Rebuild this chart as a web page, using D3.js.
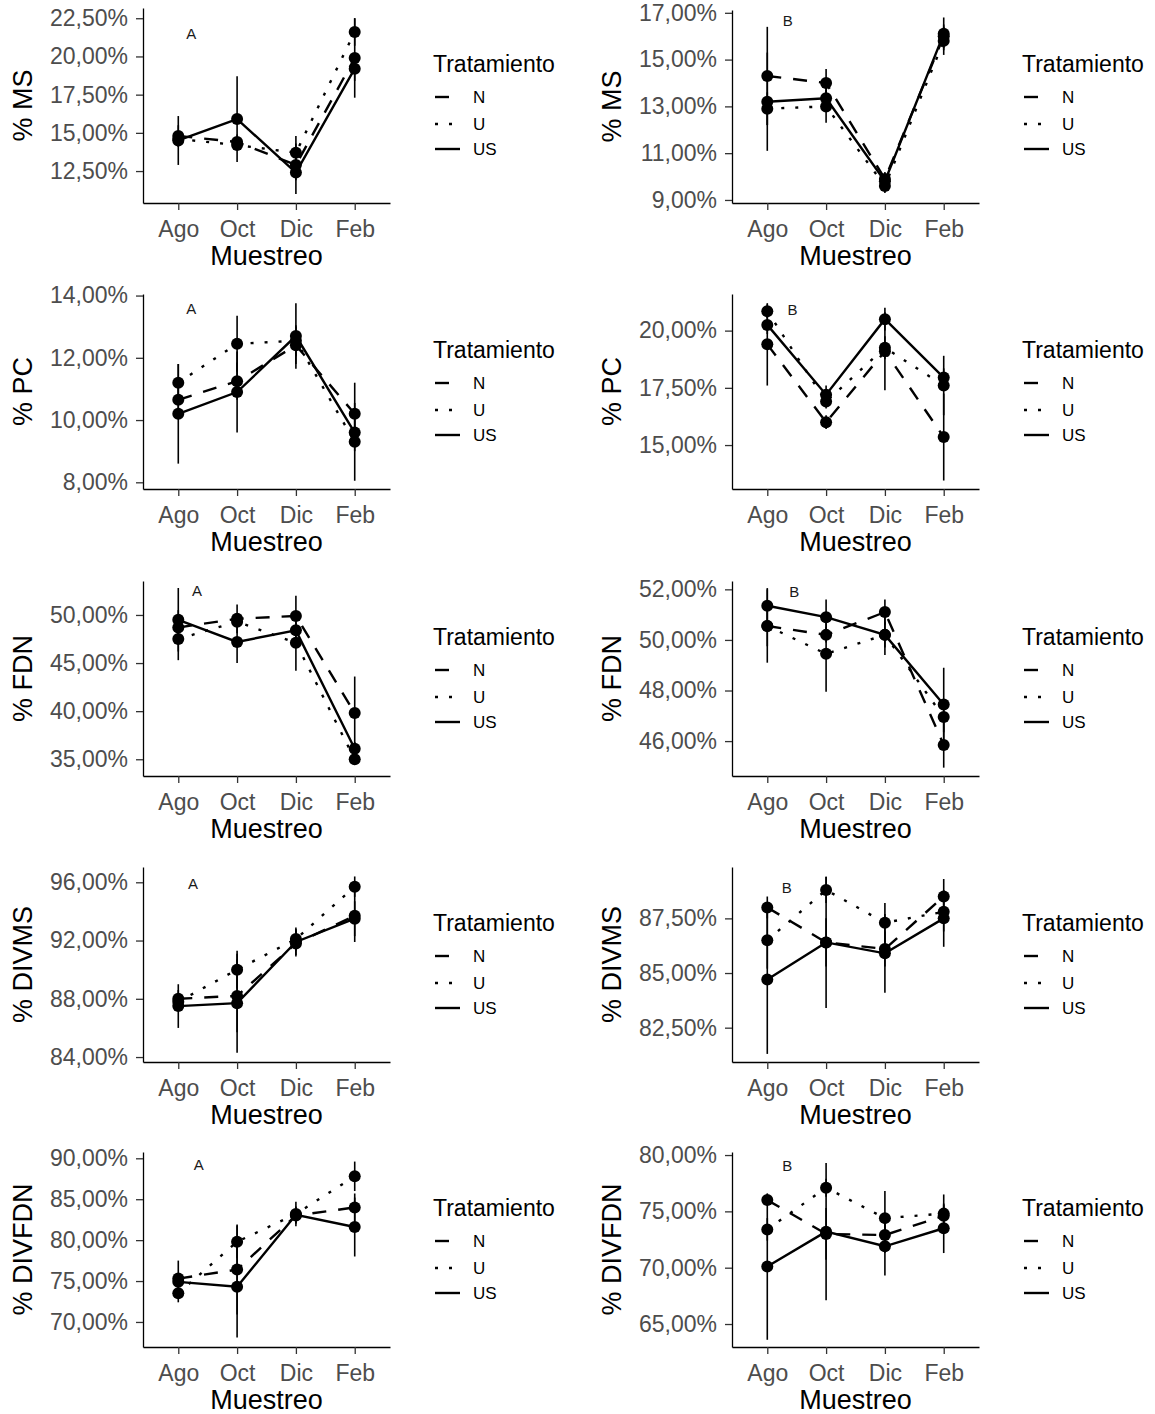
<!DOCTYPE html>
<html>
<head>
<meta charset="utf-8">
<script src="https://cdn.jsdelivr.net/npm/d3@7"></script>
<style>
  body { margin: 0; background: #fff; }
  text { font-family: "Liberation Sans", Arial, sans-serif; }
</style>
</head>
<body>
<svg id="chart" width="1155" height="1414"></svg>
<script>
var months = ['Ago', 'Oct', 'Dic', 'Feb'];
var treatments = ['N', 'U', 'US'];

// means and standard errors, rows = N, U, US
var msA_mean = [[14.8, 14.4, 12.9, 19.9], [14.6, 14.2, 13.7, 21.6], [14.5, 15.9, 12.4, 19.2]];
var msA_se   = [[0.7, 0.5, 1.9, 2.6], [0.5, 0.3, 0.6, 0.9], [1.6, 2.8, 0.5, 0.8]];
var msB_mean = [[14.3, 14.0, 9.9, 16.0], [12.9, 13.0, 9.6, 15.8], [13.2, 13.35, 9.8, 16.1]];
var msB_se   = [[2.1, 0.6, 0.3, 0.5], [0.7, 0.7, 0.3, 0.6], [2.1, 0.5, 0.3, 0.7]];

var pcA_mean = [[10.65, 11.25, 12.4, 10.2], [11.2, 12.45, 12.55, 9.3], [10.2, 10.9, 12.7, 9.6]];
var pcA_se   = [[0.5, 0.6, 0.6, 1.0], [0.6, 0.9, 0.5, 1.25], [1.6, 1.3, 1.05, 0.6]];
var pcB_mean = [[19.4, 16.0, 19.1, 15.35], [20.85, 16.9, 19.25, 17.6], [20.25, 17.2, 20.5, 17.95]];
var pcB_se   = [[1.8, 0.3, 1.7, 1.9], [0.3, 0.3, 0.5, 1.3], [0.4, 0.4, 0.5, 0.4]];

var fdnA_mean = [[48.7, 49.6, 49.9, 39.8], [47.5, 49.3, 47.1, 35.0], [49.5, 47.2, 48.4, 36.1]];
var fdnA_se   = [[1.8, 1.5, 2.1, 3.8], [2.2, 0.6, 2.9, 0.6], [3.3, 2.2, 0.8, 0.7]];
var fdnB_mean = [[50.55, 50.2, 51.1, 45.85], [50.55, 49.45, 50.2, 46.95], [51.35, 50.9, 50.2, 47.45]];
var fdnB_se   = [[1.45, 0.3, 0.5, 0.9], [0.8, 1.5, 0.5, 0.6], [0.7, 0.7, 0.8, 1.45]];

var divmsA_mean = [[88.0, 88.2, 91.8, 93.7], [87.8, 90.0, 92.1, 95.7], [87.5, 87.7, 91.9, 93.5]];
var divmsA_se   = [[0.6, 2.5, 0.9, 1.8], [0.5, 1.3, 0.8, 0.7], [1.5, 3.4, 0.9, 1.2]];
var divmsB_mean = [[88.0, 86.4, 86.1, 88.5], [86.5, 88.8, 87.3, 87.8], [84.7, 86.4, 85.9, 87.5]];
var divmsB_se   = [[0.5, 1.1, 0.8, 0.8], [1.3, 0.6, 0.9, 0.9], [3.4, 3.0, 1.8, 1.3]];

var divfdnA_mean = [[75.3, 76.4, 83.0, 84.0], [73.5, 79.8, 83.2, 87.8], [74.9, 74.3, 83.1, 81.6]];
var divfdnA_se   = [[2.2, 5.5, 1.0, 1.7], [1.1, 2.0, 1.5, 1.8], [0.6, 6.2, 1.0, 3.6]];
var divfdnB_mean = [[76.0, 73.0, 72.9, 74.6], [73.4, 77.1, 74.4, 74.8], [70.1, 73.2, 71.9, 73.5]];
var divfdnB_se   = [[0.5, 2.3, 1.6, 1.0], [1.0, 0.8, 2.4, 1.7], [6.5, 6.1, 2.6, 2.2]];

// y tick labels of each panel
var msA_ticks = [12.5, 15, 17.5, 20, 22.5];
var msB_ticks = [9, 11, 13, 15, 17];
var pcA_ticks = [8, 10, 12, 14];
var pcB_ticks = [15, 17.5, 20];
var fdnA_ticks = [35, 40, 45, 50];
var fdnB_ticks = [46, 48, 50, 52];
var divmsA_ticks = [84, 88, 92, 96];
var divmsB_ticks = [82.5, 85, 87.5];
var divfdnA_ticks = [70, 75, 80, 85, 90];
var divfdnB_ticks = [65, 70, 75, 80];

var panels = [
  { row: 0, col: 0, title: '% MS', tag: 'A', mean: msA_mean, se: msA_se, ticks: msA_ticks, domain: [10.41, 23.17], tagAt: [1.22, 21.47] },
  { row: 0, col: 1, title: '% MS', tag: 'B', mean: msB_mean, se: msB_se, ticks: msB_ticks, domain: [8.87, 17.12], tagAt: [1.35, 16.65], inset: 2 },
  { row: 1, col: 0, title: '% PC', tag: 'A', mean: pcA_mean, se: pcA_se, ticks: pcA_ticks, domain: [7.785, 14.05], tagAt: [1.22, 13.57] },
  { row: 1, col: 1, title: '% PC', tag: 'B', mean: pcB_mean, se: pcB_se, ticks: pcB_ticks, domain: [13.08, 21.6], tagAt: [1.43, 20.9] },
  { row: 2, col: 0, title: '% FDN', tag: 'A', mean: fdnA_mean, se: fdnA_se, ticks: fdnA_ticks, domain: [33.26, 53.53], tagAt: [1.32, 52.5] },
  { row: 2, col: 1, title: '% FDN', tag: 'B', mean: fdnB_mean, se: fdnB_se, ticks: fdnB_ticks, domain: [44.62, 52.33], tagAt: [1.46, 51.91] },
  { row: 3, col: 0, title: '% DIVMS', tag: 'A', mean: divmsA_mean, se: divmsA_se, ticks: divmsA_ticks, domain: [83.66, 97.05], tagAt: [1.25, 95.92] },
  { row: 3, col: 1, title: '% DIVMS', tag: 'B', mean: divmsB_mean, se: divmsB_se, ticks: divmsB_ticks, domain: [80.93, 89.85], tagAt: [1.33, 88.91] },
  { row: 4, col: 0, title: '% DIVFDN', tag: 'A', mean: divfdnA_mean, se: divfdnA_se, ticks: divfdnA_ticks, domain: [66.94, 90.77], tagAt: [1.35, 89.19] },
  { row: 4, col: 1, title: '% DIVFDN', tag: 'B', mean: divfdnB_mean, se: divfdnB_se, ticks: divfdnB_ticks, domain: [62.96, 80.27], tagAt: [1.34, 79.06] }
];

var svg = d3.select('#chart');
svg.append('rect').attr('width', 1155).attr('height', 1414).attr('fill', '#fff');

var colX = [143, 732], rowY = [8, 294, 581, 867, 1152], pw = 247, ph = 195;
var dashes = { N: '14 12', U: '3 11', US: null };
var pct = function(v) { return d3.format('.2f')(v).replace('.', ',') + '%'; };

panels.forEach(function(p) {
  var inset = p.inset || 0;
  var h = ph - inset;
  var g = svg.append('g').attr('transform', 'translate(' + colX[p.col] + ',' + (rowY[p.row] + inset) + ')');
  var x = d3.scalePoint().domain(months).range([0, pw]).padding(0.6);
  var y = d3.scaleLinear().domain(p.domain).range([h, 0]);
  // category index (1-based, like ggplot) to pixel
  var xc = d3.scaleLinear().domain([1, 4]).range([x(months[0]), x(months[3])]);

  var yAxis = g.append('g').call(d3.axisLeft(y).tickValues(p.ticks).tickFormat(pct).tickSize(7).tickPadding(8).tickSizeOuter(0));
  var xAxis = g.append('g').attr('transform', 'translate(0,' + h + ')')
    .call(d3.axisBottom(x).tickSize(7).tickPadding(11).tickSizeOuter(0));
  [yAxis, xAxis].forEach(function(a) {
    a.select('.domain').attr('stroke', '#000').attr('stroke-width', 1.3);
    a.selectAll('.tick line').attr('stroke', '#333').attr('stroke-width', 1.3);
    a.selectAll('.tick text').attr('fill', '#4d4d4d').style('font-size', '23px');
  });

  g.append('text')
    .attr('transform', 'translate(-120,' + (h / 2) + ') rotate(-90)')
    .attr('text-anchor', 'middle').attr('dy', '0.35em')
    .style('font-size', '27px').attr('fill', '#000').text(p.title);
  g.append('text')
    .attr('x', pw / 2).attr('y', h + 62).attr('text-anchor', 'middle')
    .style('font-size', '27px').attr('fill', '#000').text('Muestreo');

  g.append('text')
    .attr('x', xc(p.tagAt[0])).attr('y', y(p.tagAt[1])).attr('dy', '0.35em')
    .attr('text-anchor', 'middle').style('font-size', '15px').attr('fill', '#1a1a1a').text(p.tag);

  var line = d3.line().x(function(d, i) { return x(months[i]); }).y(function(d) { return y(d); });

  treatments.forEach(function(t, k) {
    g.append('path').datum(p.mean[k])
      .attr('d', line).attr('fill', 'none').attr('stroke', '#000')
      .attr('stroke-width', 2.4).attr('stroke-dasharray', dashes[t]);
  });

  treatments.forEach(function(t, k) {
    g.selectAll(null).data(p.mean[k]).enter().append('line')
      .attr('x1', function(d, i) { return x(months[i]); })
      .attr('x2', function(d, i) { return x(months[i]); })
      .attr('y1', function(d, i) { return y(d - p.se[k][i]); })
      .attr('y2', function(d, i) { return y(d + p.se[k][i]); })
      .attr('stroke', '#000').attr('stroke-width', 1.6);
  });

  treatments.forEach(function(t, k) {
    g.selectAll(null).data(p.mean[k]).enter().append('circle')
      .attr('cx', function(d, i) { return x(months[i]); })
      .attr('cy', function(d) { return y(d); })
      .attr('r', 6).attr('fill', '#000');
  });

  // legend
  var lg = g.append('g').attr('transform', 'translate(' + (pw + 43) + ',' + (-inset) + ')');
  lg.append('text').attr('x', 0).attr('y', 64).style('font-size', '23px').attr('fill', '#000').text('Tratamiento');
  var keyY = [89, 116, 141];
  treatments.forEach(function(t, k) {
    lg.append('line').attr('x1', 2).attr('x2', 27).attr('y1', keyY[k]).attr('y2', keyY[k])
      .attr('stroke', '#000').attr('stroke-width', 2.4).attr('stroke-dasharray', dashes[t]);
    lg.append('text').attr('x', 40).attr('y', keyY[k]).attr('dy', '0.35em')
      .style('font-size', '17px').attr('fill', '#000').text(t);
  });
});
</script>
</body>
</html>
